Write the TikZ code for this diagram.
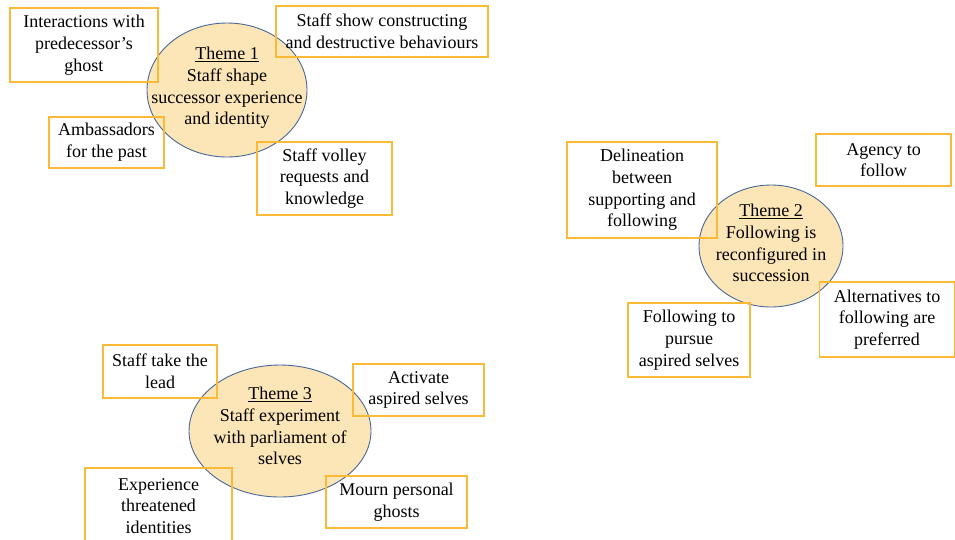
\documentclass[tikz,border=0pt]{standalone}
\usepackage{fontspec}
\setmainfont{Liberation Serif}
\usetikzlibrary{shapes.geometric}
\definecolor{thmFill}{RGB}{252, 229, 182}
\definecolor{thmLine}{RGB}{72, 104, 152}
\definecolor{boxLine}{RGB}{250, 186, 55}

\begin{document}
\begin{tikzpicture}[x=1pt, y=-1pt, every node/.style={font=\fontsize{18}{21.7}\selectfont, align=center, inner sep=0pt},
                    theme/.style={ellipse, draw=thmLine, fill=thmFill, line width=0.9pt},
                    item/.style={draw=boxLine, line width=1.1pt}]
                    \useasboundingbox (0,0) rectangle (955,539);
                    % Theme 1
                    \node[theme, minimum width=160, minimum height=134] (th1) at (227,90) {};
                    \node (th1txt) at (227,88) {\underline{Theme 1}\\Staff shape\\successor experience\\and identity};
                    \node[item, minimum width=148, minimum height=74] (ghost) at (84,45) {Interactions with\\predecessor's\\ghost};
                    \node[item, minimum width=212, minimum height=51] (behav) at (382,31.5) {Staff show constructing\\and destructive behaviours};
                    \node[item, minimum width=115, minimum height=51] (ambass) at (106.5,142.5) {Ambassadors\\for the past};
                    \node[item, minimum width=135, minimum height=73] (volley) at (324.5,178.5) {Staff volley\\requests and\\knowledge};
                    % Theme 2
                    \node[theme, minimum width=144, minimum height=122] (th2) at (771,246) {};
                    \node (th2txt) at (771,243) {\underline{Theme 2}\\Following is\\reconfigured in\\succession};
                    \node[item, minimum width=150, minimum height=96] (delin) at (642,190) {Delineation\\between\\supporting and\\following};
                    \node[item, minimum width=135, minimum height=52] (agency) at (883.5,160) {Agency to\\follow};
                    \node[item, minimum width=122, minimum height=74] (pursue) at (689,340) {Following to\\pursue\\aspired selves};
                    \node[item, minimum width=135, minimum height=75] (altern) at (887,319.5) {Alternatives to\\following are\\preferred};
                    % Theme 3
                    \node[theme, minimum width=182, minimum height=132] (th3) at (280,431) {};
                    \node (th3txt) at (280,426) {\underline{Theme 3}\\Staff experiment\\with parliament of\\selves};
                    \node[item, minimum width=114, minimum height=53] (lead) at (160,371.5) {Staff take the\\lead};
                    \node[item, minimum width=131, minimum height=52] (activ) at (418.5,390) {Activate\\aspired selves};
                    \node[item, minimum width=147, minimum height=76] (threat) at (158.5,506) {Experience\\threatened\\identities};
                    \node[item, minimum width=141, minimum height=52] (mourn) at (396.5,502) {Mourn personal\\ghosts};
                \end{tikzpicture}
\end{document}
